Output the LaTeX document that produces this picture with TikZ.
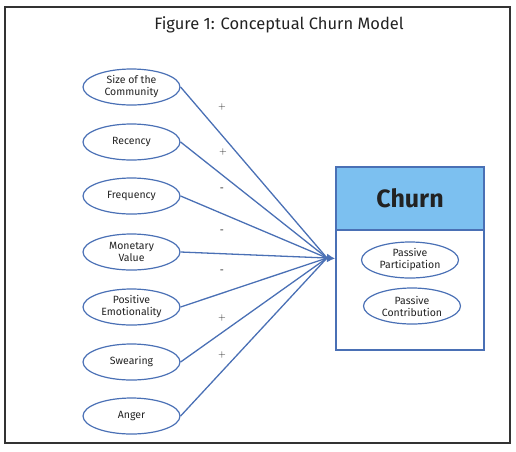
\documentclass[tikz,border=0pt]{standalone}
\usepackage{fontspec}
\setmainfont{Fira Sans}
\usetikzlibrary{arrows.meta,shapes.geometric}
\definecolor{lineblue}{HTML}{4A70B5}
\definecolor{headblue}{HTML}{7CC0F0}
\definecolor{framegray}{HTML}{333333}
\definecolor{txt}{HTML}{222222}
\begin{document}
\begin{tikzpicture}[x=1pt,y=-1pt,
  var/.style={ellipse, draw=lineblue, line width=1.2pt, minimum width=97pt, minimum height=36pt,
    inner sep=0pt, align=center, font=\fontsize{10.5}{12}\selectfont, text=txt},
  link/.style={draw=lineblue, line width=1.3pt},
  sign/.style={font=\fontsize{10}{11}\selectfont, text=txt, inner sep=0pt}]
\useasboundingbox (0,0) rectangle (516,451);
\draw[framegray, line width=2pt] (5,7) rectangle (510,443);
\node[font=\fontsize{16.5}{18}\selectfont, text=txt] (title) at (279,25) {Figure 1: Conceptual Churn Model};

\node[var] (size) at (131.5,87) {Size of the\\Community};
\node[var] (rec) at (131.5,142) {Recency};
\node[var] (freq) at (131.5,196) {Frequency};
\node[var] (mon) at (131.5,252) {Monetary\\Value};
\node[var] (pos) at (131.5,307) {Positive\\Emotionality};
\node[var] (swe) at (131.5,362) {Swearing};
\node[var] (ang) at (131.5,416) {Anger};

\node[draw=lineblue, line width=2pt, minimum width=148pt, minimum height=183pt, inner sep=0pt] (churn) at (410,258.5) {};
\node[fill=headblue, draw=lineblue, line width=2pt, minimum width=148pt, minimum height=63pt, inner sep=0pt, anchor=north,
  font=\bfseries\fontsize{25}{28}\selectfont, text=txt] (head) at (churn.north) {Churn};
\node[var] (pp) at (410,260) {Passive\\Participation};
\node[var] (pc) at (412,306) {Passive\\Contribution};

\coordinate (conv) at (327,258);
\foreach \n in {size,rec,freq,mon,pos,swe,ang} \draw[link] (\n.east) -- (conv);
\draw[link, -{Latex[length=8pt,width=9pt]}] (conv) -- (churn.west);

\node[sign] (s1) at (222,107) {$+$};
\node[sign] (s2) at (223,152) {$+$};
\node[sign] (s3) at (222,190) {-};
\node[sign] (s4) at (222,232) {-};
\node[sign] (s5) at (222,272) {-};
\node[sign] (s6) at (222,318) {$+$};
\node[sign] (s7) at (222,355) {$+$};
\end{tikzpicture}
\end{document}
